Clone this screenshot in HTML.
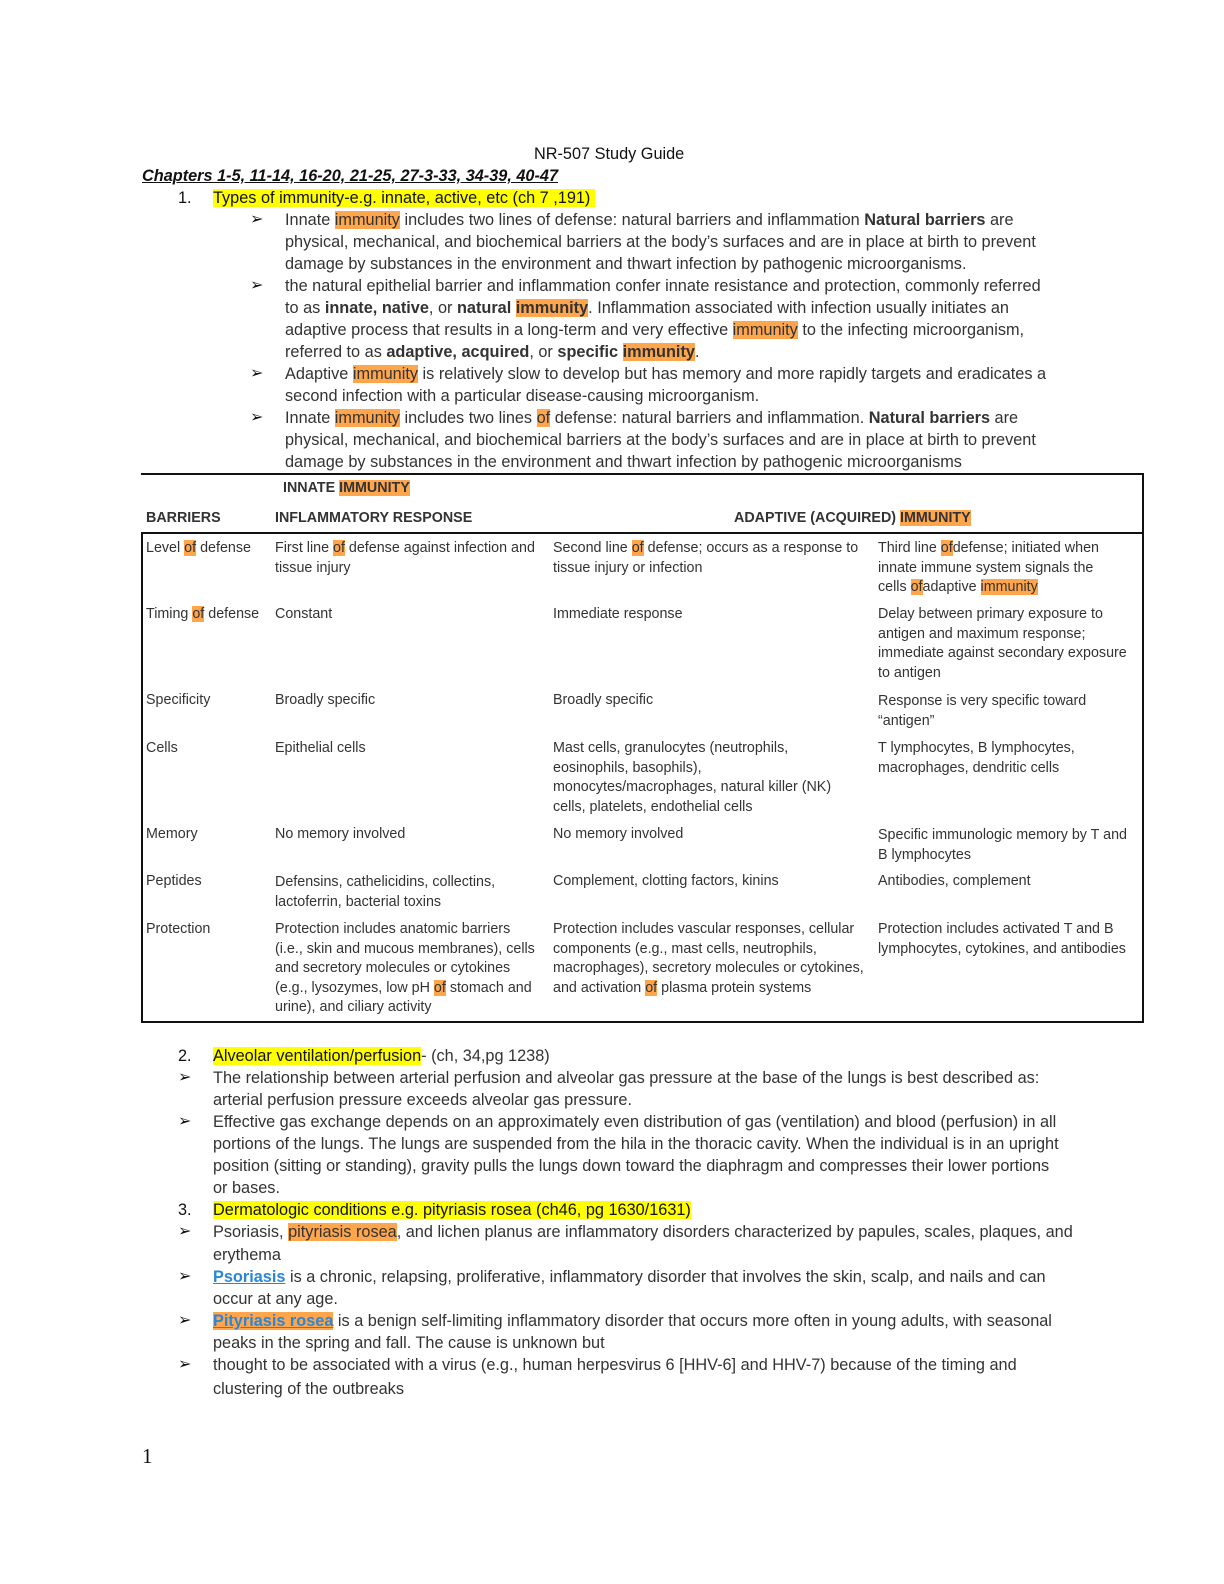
<!DOCTYPE html>
<html><head><meta charset="utf-8"><style>
body{margin:0;background:#fff;}
#p{position:relative;width:1224px;height:1584px;overflow:hidden;font-family:"Liberation Sans",sans-serif;color:#333;}
.l{position:absolute;white-space:nowrap;font-size:16.3px;line-height:20px;}
.t{position:absolute;white-space:nowrap;font-size:14.3px;line-height:19.5px;}
.y{background:#ffff00;color:#111;}
.o{background:#ffa64d;}
.a{position:absolute;font-size:16px;line-height:20px;color:#111;}
.u{color:#2a86d6;font-weight:bold;text-decoration:underline;}
.h{position:absolute;background:#111;}
</style></head><body><div id="p">
<div class="l" style="top:144px;left:534px;color:#111">NR-507 Study Guide</div>
<div class="l" style="top:166px;left:142px;font-weight:bold;font-style:italic;text-decoration:underline;color:#111">Chapters 1-5, 11-14, 16-20, 21-25, 27-3-33, 34-39, 40-47</div>
<div class="l" style="top:188px;left:178px;color:#111">1.</div>
<div class="l" style="top:188px;left:213px"><span class="y">Types of immunity-e.g. innate, active, etc (ch 7 ,191)&nbsp;</span></div>

<div class="a" style="top:210px;left:250px">➢</div>
<div class="l" style="top:210px;left:285px">Innate <span class="o">immunity</span> includes two lines of defense: natural barriers and inflammation <b>Natural barriers</b> are</div>
<div class="l" style="top:232px;left:285px">physical, mechanical, and biochemical barriers at the body’s surfaces and are in place at birth to prevent</div>
<div class="l" style="top:254px;left:285px">damage by substances in the environment and thwart infection by pathogenic microorganisms.</div>
<div class="a" style="top:276px;left:250px">➢</div>
<div class="l" style="top:276px;left:285px">the natural epithelial barrier and inflammation confer innate resistance and protection, commonly referred</div>
<div class="l" style="top:298px;left:285px">to as <b>innate, native</b>, or <b>natural</b> <span class="o"><b>immunity</b></span>. Inflammation associated with infection usually initiates an</div>
<div class="l" style="top:320px;left:285px">adaptive process that results in a long-term and very effective <span class="o">immunity</span> to the infecting microorganism,</div>
<div class="l" style="top:342px;left:285px">referred to as <b>adaptive, acquired</b>, or <b>specific</b> <span class="o"><b>immunity</b></span>.</div>
<div class="a" style="top:364px;left:250px">➢</div>
<div class="l" style="top:364px;left:285px">Adaptive <span class="o">immunity</span> is relatively slow to develop but has memory and more rapidly targets and eradicates a</div>
<div class="l" style="top:386px;left:285px">second infection with a particular disease-causing microorganism.</div>
<div class="a" style="top:408px;left:250px">➢</div>
<div class="l" style="top:408px;left:285px">Innate <span class="o">immunity</span> includes two lines <span class="o">of</span> defense: natural barriers and inflammation. <b>Natural barriers</b> are</div>
<div class="l" style="top:430px;left:285px">physical, mechanical, and biochemical barriers at the body’s surfaces and are in place at birth to prevent</div>
<div class="l" style="top:452px;left:285px">damage by substances in the environment and thwart infection by pathogenic microorganisms</div>

<div class="h" style="left:141px;top:473px;width:1003px;height:2px"></div>
<div class="h" style="left:1142px;top:473px;width:2px;height:550px"></div>
<div class="h" style="left:141px;top:532px;width:1003px;height:2px"></div>
<div class="h" style="left:141px;top:532px;width:2px;height:491px"></div>
<div class="h" style="left:141px;top:1021px;width:1003px;height:2px"></div>

<div class="t" style="top:479px;left:283px;font-weight:bold">INNATE <span class="o">IMMUNITY</span></div>
<div class="t" style="top:509px;left:146px;font-weight:bold">BARRIERS</div>
<div class="t" style="top:509px;left:275px;font-weight:bold">INFLAMMATORY RESPONSE</div>
<div class="t" style="top:509px;left:734px;font-weight:bold">ADAPTIVE (ACQUIRED) <span class="o">IMMUNITY</span></div>

<div class="t" style="top:539px;left:146px">Level <span class="o">of</span> defense</div>
<div class="t" style="top:539px;left:275px">First line <span class="o">of</span> defense against infection and<br>tissue injury</div>
<div class="t" style="top:539px;left:553px">Second line <span class="o">of</span> defense; occurs as a response to<br>tissue injury or infection</div>
<div class="t" style="top:539px;left:878px">Third line <span class="o">of</span>defense; initiated when<br>innate immune system signals the<br>cells <span class="o">of</span>adaptive <span class="o">immunity</span></div>

<div class="t" style="top:605px;left:146px">Timing <span class="o">of</span> defense</div>
<div class="t" style="top:605px;left:275px">Constant</div>
<div class="t" style="top:605px;left:553px">Immediate response</div>
<div class="t" style="top:605px;left:878px;line-height:19.6px">Delay between primary exposure to<br>antigen and maximum response;<br>immediate against secondary exposure<br>to antigen</div>

<div class="t" style="top:691px;left:146px">Specificity</div>
<div class="t" style="top:691px;left:275px">Broadly specific</div>
<div class="t" style="top:691px;left:553px">Broadly specific</div>
<div class="t" style="top:691px;left:878px;line-height:20px">Response is very specific toward<br>“antigen”</div>

<div class="t" style="top:739px;left:146px">Cells</div>
<div class="t" style="top:739px;left:275px">Epithelial cells</div>
<div class="t" style="top:739px;left:553px">Mast cells, granulocytes (neutrophils,<br>eosinophils, basophils),<br>monocytes/macrophages, natural killer (NK)<br>cells, platelets, endothelial cells</div>
<div class="t" style="top:739px;left:878px">T lymphocytes, B lymphocytes,<br>macrophages, dendritic cells</div>

<div class="t" style="top:825px;left:146px">Memory</div>
<div class="t" style="top:825px;left:275px">No memory involved</div>
<div class="t" style="top:825px;left:553px">No memory involved</div>
<div class="t" style="top:825px;left:878px;line-height:20px">Specific immunologic memory by T and<br>B lymphocytes</div>

<div class="t" style="top:872px;left:146px">Peptides</div>
<div class="t" style="top:872px;left:275px;line-height:20px">Defensins, cathelicidins, collectins,<br>lactoferrin, bacterial toxins</div>
<div class="t" style="top:872px;left:553px">Complement, clotting factors, kinins</div>
<div class="t" style="top:872px;left:878px">Antibodies, complement</div>

<div class="t" style="top:920px;left:146px">Protection</div>
<div class="t" style="top:920px;left:275px">Protection includes anatomic barriers<br>(i.e., skin and mucous membranes), cells<br>and secretory molecules or cytokines<br>(e.g., lysozymes, low pH <span class="o">of</span> stomach and<br>urine), and ciliary activity</div>
<div class="t" style="top:920px;left:553px">Protection includes vascular responses, cellular<br>components (e.g., mast cells, neutrophils,<br>macrophages), secretory molecules or cytokines,<br>and activation <span class="o">of</span> plasma protein systems</div>
<div class="t" style="top:920px;left:878px">Protection includes activated T and B<br>lymphocytes, cytokines, and antibodies</div>

<div class="l" style="top:1046px;left:178px;color:#111">2.</div>
<div class="l" style="top:1046px;left:213px"><span class="y">Alveolar ventilation/perfusion</span>- (ch, 34,pg 1238)</div>
<div class="a" style="top:1068px;left:178px">➢</div>
<div class="l" style="top:1068px;left:213px">The relationship between arterial perfusion and alveolar gas pressure at the base of the lungs is best described as:</div>
<div class="l" style="top:1090px;left:213px">arterial perfusion pressure exceeds alveolar gas pressure.</div>
<div class="a" style="top:1112px;left:178px">➢</div>
<div class="l" style="top:1112px;left:213px">Effective gas exchange depends on an approximately even distribution of gas (ventilation) and blood (perfusion) in all</div>
<div class="l" style="top:1134px;left:213px">portions of the lungs. The lungs are suspended from the hila in the thoracic cavity. When the individual is in an upright</div>
<div class="l" style="top:1156px;left:213px">position (sitting or standing), gravity pulls the lungs down toward the diaphragm and compresses their lower portions</div>
<div class="l" style="top:1178px;left:213px">or bases.</div>
<div class="l" style="top:1200px;left:178px;color:#111">3.</div>
<div class="l" style="top:1200px;left:213px"><span class="y">Dermatologic conditions e.g. pityriasis rosea (ch46, pg 1630/1631)</span></div>
<div class="a" style="top:1222px;left:178px">➢</div>
<div class="l" style="top:1222px;left:213px">Psoriasis, <span class="o">pityriasis rosea</span>, and lichen planus are inflammatory disorders characterized by papules, scales, plaques, and</div>
<div class="l" style="top:1245px;left:213px">erythema</div>
<div class="a" style="top:1267px;left:178px">➢</div>
<div class="l" style="top:1267px;left:213px"><span class="u">Psoriasis</span> is a chronic, relapsing, proliferative, inflammatory disorder that involves the skin, scalp, and nails and can</div>
<div class="l" style="top:1289px;left:213px">occur at any age.</div>
<div class="a" style="top:1311px;left:178px">➢</div>
<div class="l" style="top:1311px;left:213px"><span class="u o">Pityriasis rosea</span> is a benign self-limiting inflammatory disorder that occurs more often in young adults, with seasonal</div>
<div class="l" style="top:1333px;left:213px">peaks in the spring and fall. The cause is unknown but</div>
<div class="a" style="top:1355px;left:178px">➢</div>
<div class="l" style="top:1355px;left:213px">thought to be associated with a virus (e.g., human herpesvirus 6 [HHV-6] and HHV-7) because of the timing and</div>
<div class="l" style="top:1379px;left:213px">clustering of the outbreaks</div>
<div style="position:absolute;top:1444px;left:142px;font-family:'Liberation Serif',serif;font-size:21px;color:#111">1</div>
</div></body></html>
